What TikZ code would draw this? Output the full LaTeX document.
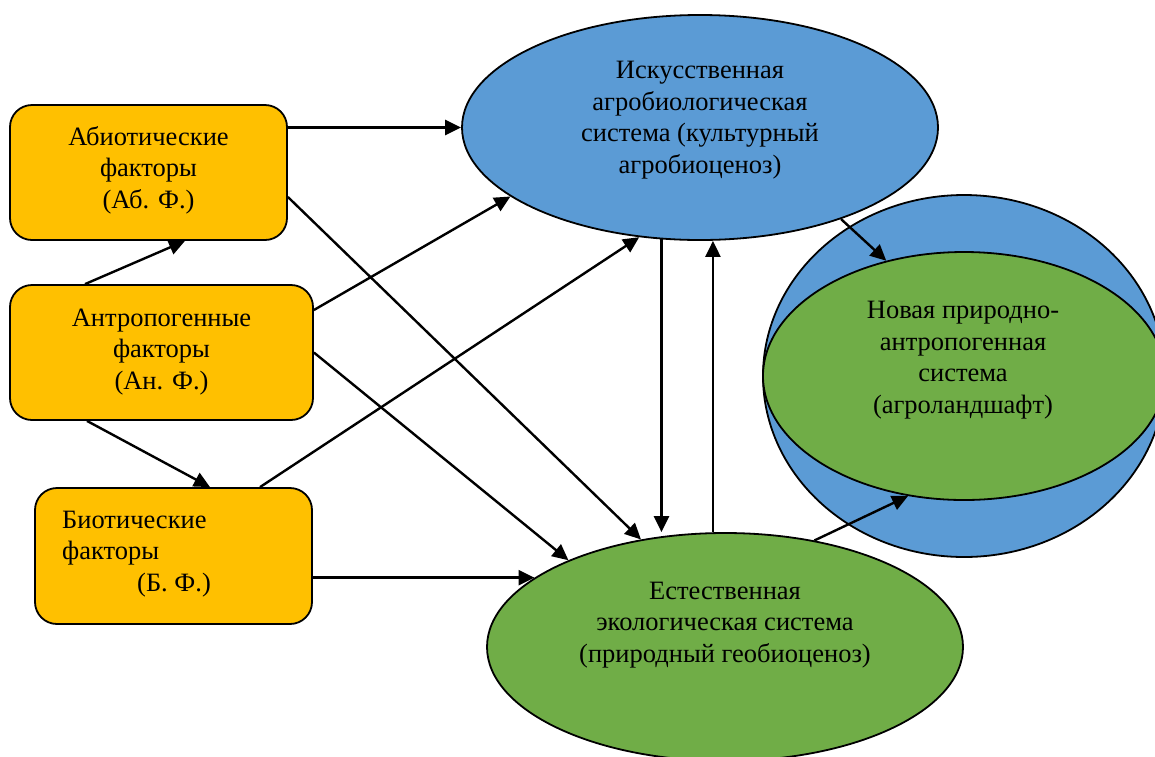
\documentclass[tikz,border=0pt]{standalone}
\usepackage{fontspec}
\setmainfont{Liberation Serif}
\usetikzlibrary{arrows.meta,shapes.geometric}
\definecolor{boxc}{HTML}{FFC000}
\definecolor{bluec}{HTML}{5B9BD5}
\definecolor{greenc}{HTML}{70AD47}
\begin{document}
\begin{tikzpicture}[x=1pt,y=-1pt,
 fbox/.style={draw=black, line width=1.8pt, fill=boxc, rounded corners=22pt, inner sep=0pt},
 ell/.style={ellipse, draw=black, line width=1.8pt, inner sep=0pt},
 txt/.style={font=\fontsize{26.5}{31.5}\selectfont, align=center, inner sep=0pt},
 arr/.style={line width=2.4pt, -{Triangle[length=16pt,width=15pt]}}]
\useasboundingbox (0,0) rectangle (1155,756);
% shapes
\node[fbox, minimum width=277pt, minimum height=135pt] (ab) at (148.5,172.5) {};
\node[fbox, minimum width=303pt, minimum height=135pt] (an) at (161.5,352.5) {};
\node[fbox, minimum width=277pt, minimum height=136pt] (bio) at (173.5,556) {};
\node[ell, fill=bluec, minimum width=476pt, minimum height=225pt] (T) at (700,127.5) {};
\node[ell, fill=greenc, minimum width=476pt, minimum height=228pt] (B) at (725,647) {};
\node[ell, fill=bluec, minimum width=402pt, minimum height=362pt] (C) at (964,376) {};
\node[ell, fill=greenc, minimum width=402pt, minimum height=248pt] (G) at (964,376) {};
% texts
\node[txt] (abt) at (148.5,170) {Абиотические\\факторы\\(Аб. Ф.)};
\node[txt] (ant) at (161.5,352) {Антропогенные\\факторы\\(Ан. Ф.)};
\node[txt, align=left, anchor=west] (biot) at (62,554) {Биотические\\факторы\\\hspace*{75pt}(Б. Ф.)};
\node[txt] (Tt) at (700,120) {Искусственная\\агробиологическая\\система (культурный\\агробиоценоз)};
\node[txt] (Bt) at (725,625) {Естественная\\экологическая система\\(природный геобиоценоз)};
\node[txt] (Gt) at (963,360) {Новая природно-\\антропогенная\\система\\(агроландшафт)};
% connectors
\draw[arr] (ab.east |- T.west) -- (T.west);
\draw[arr] ([yshift=-24.5pt]ab.east) -- (B.128);
\draw[arr] ([xshift=-76.5pt]an.north) -- ([xshift=36.5pt]ab.south);
\draw[arr] ([yshift=42.5pt]an.east) -- (T.200);
\draw[arr] (an.east) -- (B.151);
\draw[arr] ([xshift=-74.5pt]an.south) -- ([xshift=36.5pt]bio.north);
\draw[arr] ([xshift=86.5pt]bio.north) -- (T.241);
\draw[arr] (bio.east |- B.160) -- (B.160);
\draw[arr] (T.251) -- (T.251 |- B.north);
\draw[arr] (B.96) -- (B.96 |- T.south);
\draw[arr] (T.-33) -- (G.124);
\draw[arr] (B.50) -- (G.245);
\end{tikzpicture}
\end{document}
